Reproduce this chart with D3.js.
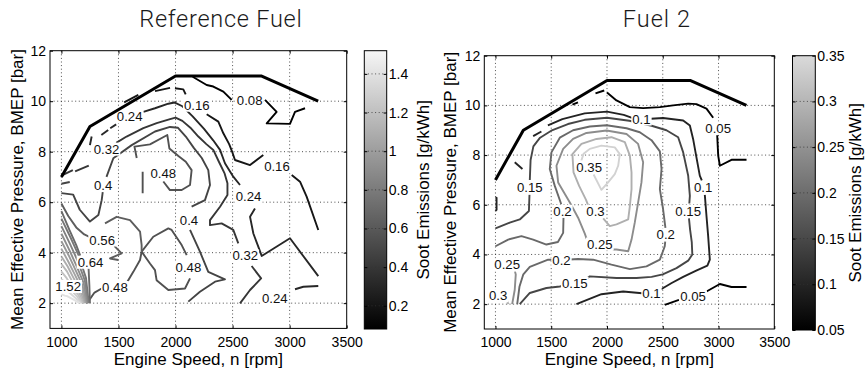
<!DOCTYPE html>
<html><head><meta charset="utf-8">
<script src="https://cdn.jsdelivr.net/npm/d3@7"></script>
<style>body{margin:0;background:#fff}</style>
</head><body>
<svg id="c" width="867" height="368"></svg>
<script>
// ---------------- DATA ----------------
const xTicks = [1000, 1500, 2000, 2500, 3000, 3500];
const yTicks = [2, 4, 6, 8, 10, 12];
const xGrid = [1000, 1500, 2000, 2500, 3000];
const yGrid = [2, 4, 6, 8, 10];
const fullLoadRpm = [1000, 1250, 2000, 2750, 3250];
const fullLoadBmep = [7, 9, 11, 11, 10];

const refCbDomain = [0.08, 1.52];
const refCbTicks = [0.2, 0.4, 0.6, 0.8, 1.0, 1.2, 1.4];
const refCbTickLabels = ["0.2", "0.4", "0.6", "0.8", "1", "1.2", "1.4"];
const f2CbDomain = [0.05, 0.35];
const f2CbTicks = [0.05, 0.1, 0.15, 0.2, 0.25, 0.3, 0.35];
const f2CbTickLabels = ["0.05", "0.1", "0.15", "0.2", "0.25", "0.3", "0.35"];

// contour polylines: [level, [[rpm, bmep], ...]]
const refLines = [
  [0.08, [[2150,10.97],[2273,10.64],[2331,10.58],[2419,10.38],[2492,10.05]]],
  [0.08, [[2784,10.05],[2886,9.58],[2799,9.12],[3003,9.10],[3047,9.58],[3135,9.72]]],
  [0.16, [[1550,9.95],[1674,10.25]]],
  [0.16, [[1820,10.40],[1952,10.53]]],
  [0.16, [[1995,10.51],[2068,10.47],[2089,10.27]]],
  [0.16, [[2273,9.48],[2375,9.19],[2419,8.73],[2470,8.3],[2500,7.95],[2521,7.67],[2653,7.47],[2769,7.87]]],
  [0.16, [[3018,7.08],[3091,6.81],[3149,6.22],[3251,4.9]]],
  [0.24, [[1250,8.26],[1265,8.6]]],
  [0.24, [[1350,8.66],[1410,8.86]]],
  [0.24, [[1428,8.93],[1480,9.08]]],
  [0.24, [[1718,9.58],[1820,9.72],[1937,9.9],[1990,9.95],[2060,9.8],[2150,9.4],[2250,8.9],[2330,8.45],[2390,8.07],[2433,7.54],[2506,7.01],[2565,6.68]]],
  [0.24, [[2696,5.75],[2653,5.42],[2682,4.76],[2726,4.23],[2755,3.87],[3003,4.57],[3251,3.07]]],
  [0.24, [[3251,2.68],[3120,2.65],[3047,2.55]]],
  [0.32, [[1000,7.05],[1100,7.27]]],
  [0.32, [[1120,7.22],[1240,7.45]]],
  [0.32, [[1480,8.35],[1571,8.6],[1718,8.93],[1835,9.13],[1952,9.29],[2000,9.35],[2060,9.22],[2130,8.95],[2200,8.6],[2270,8.3],[2331,8.07],[2380,7.6],[2430,7.14],[2455,6.75],[2455,6.28],[2390,5.82],[2302,5.29],[2302,5.09],[2404,5.16],[2506,4.9],[2550,4.37]]],
  [0.32, [[2667,3.47],[2750,2.98],[2653,2.52],[2565,1.99]]],
  [0.40, [[1000,6.73],[1073,6.8]]],
  [0.40, [[1000,6.36],[1103,6.3],[1161,5.7],[1250,5.23],[1324,5.49],[1353,6.08],[1362,6.4]]],
  [0.40, [[1395,7.0],[1455,7.74],[1616,8.26],[1820,8.8],[1952,8.98],[2020,8.95],[2090,8.6],[2160,8.15],[2230,7.75],[2287,7.27],[2302,6.68],[2258,6.08],[2141,5.82]]],
  [0.40, [[2127,4.9],[2214,4.04],[2287,3.24],[2433,2.94],[2346,2.85],[2214,2.45],[2112,2.06]]],
  [0.48, [[1712,6.35],[1712,7.21]]],
  [0.48, [[1893,6.82],[1951,6.48],[2054,6.48],[2127,6.68],[2141,7.27],[2090,7.6],[2025,7.83],[1946,8.13],[1928,8.66],[1776,8.29],[1640,8.2],[1660,7.75]]],
  [0.48, [[1225,2.0],[1290,2.42],[1360,2.6]]],
  [0.48, [[1578,2.85],[1630,3.24],[1689,3.71],[1703,4.04]]],
  [0.48, [[1703,4.04],[1805,4.63],[1937,4.96],[1966,4.9],[2054,4.3],[2098,3.9]]],
  [0.48, [[2127,2.98],[2083,2.58],[1937,2.52],[1834,2.91],[1820,3.31],[1776,3.57],[1703,4.04]]],
  [0.56, [[1703,4.04],[1703,4.3],[1689,4.83],[1601,5.29],[1484,5.42],[1382,5.16]]],
  [0.56, [[1000,5.95],[1060,5.45],[1130,5.0],[1200,4.72],[1250,4.62]]],
  [0.56, [[1462,4.4],[1469,4.24],[1528,3.97],[1426,3.77],[1499,3.71]]],
  [0.64, [[1000,5.65],[1070,4.9],[1130,4.3],[1165,3.88]]],
  [0.64, [[1238,3.38],[1245,2.7],[1250,2.0]]],
  [0.72, [[1000,5.35],[1080,4.6],[1150,3.9],[1215,3.0],[1240,2.0]]],
  [0.80, [[1000,5.05],[1075,4.35],[1140,3.7],[1205,2.9],[1232,2.0]]],
  [0.88, [[1000,4.75],[1070,4.1],[1130,3.5],[1195,2.8],[1224,2.0]]],
  [0.96, [[1000,4.45],[1065,3.88],[1120,3.35],[1185,2.7],[1216,2.0]]],
  [1.04, [[1000,4.15],[1060,3.65],[1110,3.2],[1175,2.6],[1208,2.0]]],
  [1.12, [[1000,3.85],[1055,3.45],[1100,3.05],[1165,2.5],[1200,2.0]]],
  [1.20, [[1000,3.55],[1050,3.25],[1090,2.9],[1155,2.42],[1192,2.0]]],
  [1.28, [[1000,3.25],[1045,3.0],[1080,2.75],[1145,2.35],[1184,2.0]]],
  [1.36, [[1000,2.95],[1040,2.8],[1070,2.6],[1135,2.28],[1176,2.0]]],
  [1.44, [[1000,2.65],[1035,2.55],[1060,2.45],[1125,2.2],[1168,2.0]]],
  [1.52, [[1000,2.35],[1030,2.3],[1050,2.28],[1115,2.12],[1160,2.0]]]
];
// contour labels: [text, rpm, bmep]
const refLabels = [
  ["0.08",2650,10.03],["0.16",2186,9.85],["0.16",2889,7.41],["0.24",1598,9.39],
  ["0.24",2640,6.23],["0.24",2870,2.2],["0.32",1395,8.11],["0.32",2611,3.88],
  ["0.4",1366,6.69],["0.4",2118,5.30],["0.48",1893,7.15],["0.48",2113,3.43],
  ["0.48",1469,2.63],["0.56",1357,4.51],["0.64",1255,3.63],["1.52",1059,2.67]
];

const f2Lines = [
  [0.05, [[1690,10.03],[1740,10.12]]],
  [0.05, [[1897,10.48],[1975,10.6]]],
  [0.05, [[2000,10.52],[2085,10.2],[2205,9.93],[2324,9.89],[2474,9.93],[2593,10.0],[2728,10.07],[2802,10.05],[2892,9.87],[2952,9.5]]],
  [0.05, [[2988,8.8],[2997,7.98],[3012,7.57],[3116,7.81],[3251,7.81]]],
  [0.05, [[2518,1.97],[2645,2.17]]],
  [0.05, [[2892,2.51],[3012,2.81],[3116,2.69],[3251,2.69]]],
  [0.10, [[1000,6.3],[1010,6.28],[1010,5.8],[1000,5.75]]],
  [0.10, [[1173,7.71],[1242,7.44]]],
  [0.10, [[1338,8.76],[1412,8.95]]],
  [0.10, [[1470,9.2],[1600,9.45],[1800,9.68],[2000,9.75],[2150,9.62],[2225,9.5]]],
  [0.10, [[2395,9.46],[2503,9.49],[2683,9.39],[2743,9.19],[2772,8.65],[2802,7.91],[2832,7.17],[2850,6.98]]],
  [0.10, [[2877,6.4],[2892,5.55],[2907,4.74],[2922,3.79],[2900,3.55],[2800,3.35],[2683,3.1],[2580,2.85],[2485,2.6]]],
  [0.10, [[2315,2.44],[2145,2.51],[1950,2.4],[1726,2.0]]],
  [0.15, [[1000,5.05],[1128,5.28],[1218,5.41],[1300,5.75],[1305,6.4]]],
  [0.15, [[1308,7.0],[1315,7.8],[1340,8.35],[1400,8.7],[1500,8.98],[1650,9.25],[1800,9.42],[2000,9.5],[2200,9.38],[2400,9.18],[2533,9.0],[2638,8.72],[2683,8.11],[2728,7.17],[2743,6.36],[2738,6.05]]],
  [0.15, [[2735,5.45],[2745,5.0],[2760,4.5],[2765,4.0],[2728,3.75],[2623,3.45],[2500,3.2],[2400,3.1],[2264,3.05],[2085,3.05],[1846,3.12],[1825,3.05]]],
  [0.15, [[1598,2.73],[1577,2.71],[1457,2.65],[1308,2.45],[1218,2.0]]],
  [0.20, [[1000,4.33],[1114,4.6],[1233,4.74],[1338,4.6],[1457,4.4],[1560,4.5],[1607,4.87],[1610,5.48]]],
  [0.20, [[1590,6.02],[1532,6.76],[1487,7.44],[1502,8.11],[1577,8.7],[1696,9.0],[1846,9.15],[1996,9.2],[2175,9.08],[2294,8.92],[2399,8.6],[2474,8.15],[2489,7.44],[2474,6.63],[2503,5.82],[2518,5.28],[2524,5.07]]],
  [0.20, [[2522,4.53],[2518,4.33],[2474,3.79],[2354,3.52],[2205,3.41],[2040,3.59],[1876,3.79],[1741,3.82],[1670,3.8]]],
  [0.20, [[1515,3.79],[1472,3.79],[1308,3.5],[1250,3.2],[1215,2.7],[1195,2.0]]],
  [0.25, [[1150,2.0],[1173,2.58],[1182,3.19],[1175,3.32]]],
  [0.25, [[2052,4.2],[2085,4.2],[2190,4.13],[2220,4.6],[2249,5.28],[2279,6.09],[2309,6.9],[2324,7.71],[2279,8.45],[2175,8.85],[1996,8.99],[1816,8.89],[1696,8.65],[1607,8.25],[1547,7.57],[1562,6.9],[1667,6.09],[1741,5.48],[1801,4.84],[1818,4.62]]],
  [0.30, [[1100,2.2],[1115,2.0]]],
  [0.30, [[1966,5.45],[2025,5.14],[2085,5.21],[2190,5.41],[2205,5.95],[2220,6.63],[2220,7.3],[2205,7.98],[2160,8.52],[2040,8.72],[1906,8.65],[1771,8.45],[1690,8.04],[1700,7.3],[1750,6.76],[1810,6.22],[1830,6.0]]],
  [0.35, [[1880,7.22],[1950,6.6],[2010,6.9],[2070,7.23],[2100,7.57],[2115,8.04],[2070,8.31],[1950,8.38],[1846,8.25],[1790,8.05],[1770,7.78]]]
];
const f2Labels = [
  ["0.1",2309,9.46],["0.05",2997,9.1],["0.05",2772,2.31],["0.1",2399,2.44],
  ["0.1",2862,6.69],["0.15",2728,5.75],["0.2",2527,4.80],["0.15",1711,2.85],
  ["0.2",1592,3.77],["0.25",1105,3.59],["0.3",1024,2.35],["0.15",1308,6.69],
  ["0.2",1601,5.75],["0.3",1897,5.75],["0.35",1840,7.52],["0.25",1936,4.43]
];

// ---------------- DRAW ----------------
const FONT = "'Liberation Sans', Arial, Helvetica, sans-serif";
const svg = d3.select("#c");

function drawPanel(cfg, id) {
  const sx = d3.scaleLinear().domain([900, 3500]).range([cfg.x0, cfg.x1]);
  const sy = d3.scaleLinear().domain([1, 12]).range([cfg.y1, cfg.y0]);
  const cb = d3.scaleLinear().domain(cfg.cbDomain).range([cfg.cby1, cfg.cby0]);
  const lineColor = v => {
    const t = Math.max(0, Math.min(1, (v - cfg.cbDomain[0]) / (cfg.cbDomain[1] - cfg.cbDomain[0])));
    const g = Math.round(cfg.lineTop * Math.pow(t, cfg.gamma));
    return d3.rgb(g, g, g).toString();
  };

  const defs = svg.append("defs");
  defs.append("clipPath").attr("id", "clip" + id).append("rect")
    .attr("x", cfg.x0).attr("y", cfg.y0).attr("width", cfg.x1 - cfg.x0).attr("height", cfg.y1 - cfg.y0);
  const grad = defs.append("linearGradient").attr("id", "grad" + id)
    .attr("x1", 0).attr("y1", 1).attr("x2", 0).attr("y2", 0);
  grad.append("stop").attr("offset", "0%").attr("stop-color", "#000");
  grad.append("stop").attr("offset", "100%").attr("stop-color", cfg.cbTop);

  const g = svg.append("g");
  // grid
  const grid = g.append("g").attr("stroke", "#222").attr("stroke-width", 0.8).attr("stroke-dasharray", "1,2.6");
  grid.selectAll(".gx").data(xGrid).join("line")
    .attr("x1", d => sx(d)).attr("x2", d => sx(d)).attr("y1", cfg.y0).attr("y2", cfg.y1);
  grid.selectAll(".gy").data(yGrid).join("line")
    .attr("y1", d => sy(d)).attr("y2", d => sy(d)).attr("x1", cfg.x0).attr("x2", cfg.x1);

  // contour lines
  const line = d3.line().x(d => sx(d[0])).y(d => sy(d[1]));
  g.append("g").attr("clip-path", `url(#clip${id})`)
    .selectAll("path").data(cfg.lines).join("path")
    .attr("d", d => line(d[1]))
    .attr("fill", "none")
    .attr("stroke", d => lineColor(d[0]))
    .attr("stroke-width", 1.9)
    .attr("stroke-linejoin", "round");

  // contour labels
  const lg = g.append("g");
  cfg.labels.forEach(([txt, rx, ry]) => {
    const gg = lg.append("g");
    const r = gg.append("rect").attr("fill", "#fff");
    const t = gg.append("text").attr("x", sx(rx)).attr("y", sy(ry)).attr("dy", "0.36em")
      .attr("text-anchor", "middle").attr("font-family", FONT).attr("font-size", 13.2)
      .attr("fill", "#111").text(txt);
    const b = t.node().getBBox();
    r.attr("x", b.x - 1).attr("y", b.y + 1).attr("width", b.width + 2).attr("height", b.height - 2);
  });

  // full load line
  g.append("path")
    .attr("d", line(fullLoadRpm.map((r, i) => [r, fullLoadBmep[i]])))
    .attr("fill", "none").attr("stroke", "#000").attr("stroke-width", 3).attr("stroke-linejoin", "round");

  // axes
  const styleAxis = a => {
    a.select(".domain").remove();
    a.selectAll("text").attr("font-family", FONT).attr("font-size", 14).attr("fill", "#000");
    a.selectAll("line").attr("stroke", "#000");
  };
  const fmt = d3.format("d");
  g.append("g").attr("transform", `translate(0,${cfg.y1})`)
    .call(d3.axisBottom(sx).tickValues(xTicks).tickFormat(fmt).tickSizeInner(-3).tickSizeOuter(0).tickPadding(8.3))
    .call(styleAxis);
  g.append("g").attr("transform", `translate(${cfg.x0},0)`)
    .call(d3.axisLeft(sy).tickValues(yTicks).tickFormat(fmt).tickSizeInner(-3).tickSizeOuter(0).tickPadding(4))
    .call(styleAxis);
  g.append("g").attr("transform", `translate(0,${cfg.y0})`)
    .call(d3.axisTop(sx).tickValues(xTicks).tickSizeInner(-3).tickSizeOuter(0).tickFormat(""))
    .call(styleAxis);
  g.append("g").attr("transform", `translate(${cfg.x1},0)`)
    .call(d3.axisRight(sy).tickValues(yTicks).tickSizeInner(-3).tickSizeOuter(0).tickFormat(""))
    .call(styleAxis);
  g.append("rect").attr("x", cfg.x0).attr("y", cfg.y0)
    .attr("width", cfg.x1 - cfg.x0).attr("height", cfg.y1 - cfg.y0)
    .attr("fill", "none").attr("stroke", "#000").attr("stroke-width", 1);

  // colorbar
  g.append("rect").attr("x", cfg.cbx0).attr("y", cfg.cby0)
    .attr("width", cfg.cbx1 - cfg.cbx0).attr("height", cfg.cby1 - cfg.cby0)
    .attr("fill", `url(#grad${id})`);
  g.append("g").attr("stroke", "#333").attr("stroke-width", 0.8).attr("stroke-dasharray", "1,2.6")
    .selectAll("line").data(cfg.cbTicks.filter(v => v > cfg.cbDomain[0] + 1e-9 && v < cfg.cbDomain[1] - 1e-9)).join("line")
    .attr("x1", cfg.cbx0).attr("x2", cfg.cbx1).attr("y1", d => cb(d)).attr("y2", d => cb(d));
  g.append("g").attr("transform", `translate(${cfg.cbx1},0)`)
    .call(d3.axisRight(cb).tickValues(cfg.cbTicks).tickFormat((d, i) => cfg.cbTickLabels[i])
      .tickSizeInner(-3).tickSizeOuter(0).tickPadding(2))
    .call(styleAxis);
  g.append("g").attr("transform", `translate(${cfg.cbx0},0)`)
    .call(d3.axisLeft(cb).tickValues(cfg.cbTicks).tickFormat("").tickSizeInner(-3).tickSizeOuter(0))
    .call(styleAxis);
  g.append("rect").attr("x", cfg.cbx0).attr("y", cfg.cby0)
    .attr("width", cfg.cbx1 - cfg.cbx0).attr("height", cfg.cby1 - cfg.cby0)
    .attr("fill", "none").attr("stroke", "#000").attr("stroke-width", 1);

  // axis titles
  g.append("text").attr("x", (cfg.x0 + cfg.x1) / 2).attr("y", 364.5)
    .attr("text-anchor", "middle").attr("font-family", FONT).attr("font-size", 17).text("Engine Speed, n [rpm]");
  g.append("text").attr("transform", `translate(${cfg.ylabX},${(cfg.y0 + cfg.y1) / 2}) rotate(-90)`)
    .attr("text-anchor", "middle").attr("font-family", FONT).attr("font-size", 17)
    .text("Mean Effective Pressure, BMEP [bar]");
  g.append("text").attr("transform", `translate(${cfg.cblabX},${(cfg.cby0 + cfg.cby1) / 2}) rotate(-90)`)
    .attr("text-anchor", "middle").attr("font-family", FONT).attr("font-size", 17)
    .text("Soot Emissions [g/kWh]");
  // title
  g.append("text").attr("x", cfg.titleX).attr("y", 27.3)
    .attr("font-family", "Roboto, 'Open Sans', Lato, sans-serif").attr("font-weight", 300)
    .attr("font-size", 23.5).attr("fill", "#1a1a1a")
    .attr("textLength", cfg.titleLen).attr("lengthAdjust", "spacing")
    .text(cfg.title);
}

drawPanel({
  x0: 50, x1: 346.7, y0: 50.7, y1: 328.4,
  cbx0: 364.3, cbx1: 386.7, cby0: 50.7, cby1: 329.0,
  cbDomain: refCbDomain, cbTicks: refCbTicks, cbTickLabels: refCbTickLabels,
  cbTop: "#f6f6f6", lineTop: 225, gamma: 0.8,
  lines: refLines, labels: refLabels,
  ylabX: 22.5, cblabX: 429, title: "Reference Fuel", titleX: 139.3, titleLen: 162.4
}, "L");

drawPanel({
  x0: 484.3, x1: 774.3, y0: 55.7, y1: 329.0,
  cbx0: 792.5, cbx1: 815.3, cby0: 55.7, cby1: 330.0,
  cbDomain: f2CbDomain, cbTicks: f2CbTicks, cbTickLabels: f2CbTickLabels,
  cbTop: "#dadada", lineTop: 210, gamma: 1.0,
  lines: f2Lines, labels: f2Labels,
  ylabX: 455.5, cblabX: 860.5, title: "Fuel 2", titleX: 622.7, titleLen: 67.3
}, "R");
</script>
</body></html>
